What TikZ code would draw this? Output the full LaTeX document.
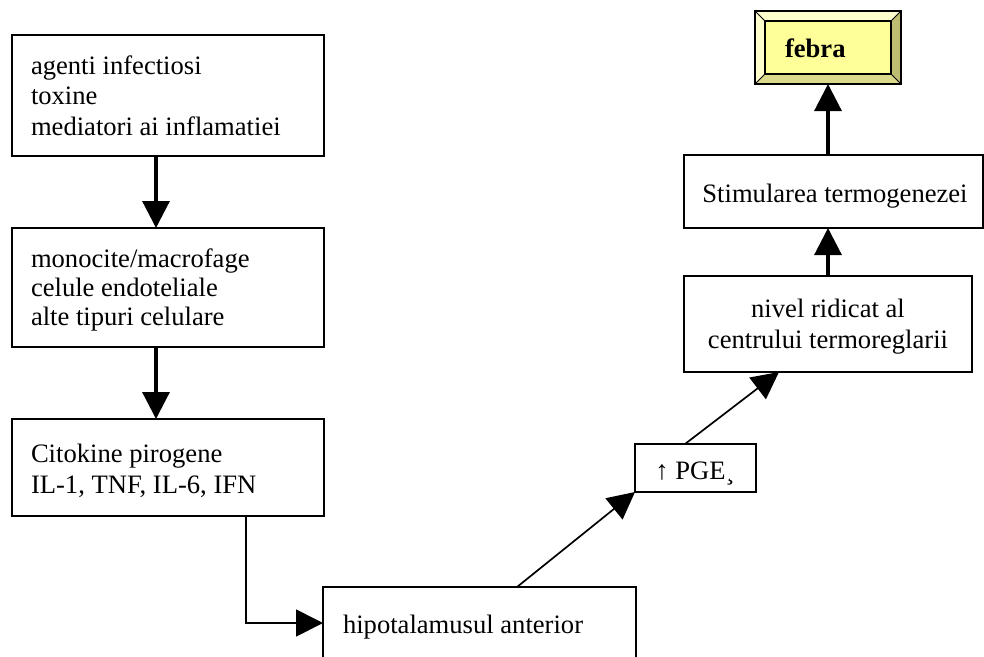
\documentclass[tikz,border=0pt]{standalone}
\usepackage{fontspec}
\setmainfont{Liberation Serif}
\usetikzlibrary{arrows.meta}
\definecolor{faceY}{HTML}{FFFF99}
\definecolor{lightY}{HTML}{FFFFCC}
\definecolor{midY}{HTML}{DADA8A}
\definecolor{darkY}{HTML}{BEBE72}
\begin{document}
\begin{tikzpicture}[x=1pt,y=-1pt,
  box/.style={draw,line width=1.8pt,rectangle,inner sep=0pt,outer sep=0pt,anchor=north west},
  lbl/.style={inner sep=0pt,outer sep=0pt,font=\fontsize{26.6}{30.6}\selectfont},
  tip/.style={-{Triangle[length=27pt,width=27pt]}},
  heavy/.style={tip,line width=3.2pt},
  light/.style={tip,line width=1.7pt}]

% page area
\fill[white] (0,0) rectangle (984,656);
\useasboundingbox (0,0) rectangle (984,656);

% left column
\node[box,minimum width=312,minimum height=121] (b1) at (12,35) {};
\node[lbl,anchor=base west] (t1a) at (31,74) {agenti infectiosi};
\node[lbl,anchor=base west] (t1b) at (31,104.5) {toxine};
\node[lbl,anchor=base west] (t1c) at (31,135) {mediatori ai inflamatiei};

\node[box,minimum width=312,minimum height=119] (b2) at (12,228) {};
\node[lbl,anchor=base west] (t2a) at (31,267) {monocite/macrofage};
\node[lbl,anchor=base west] (t2b) at (31,296) {celule endoteliale};
\node[lbl,anchor=base west] (t2c) at (31,325) {alte tipuri celulare};

\node[box,minimum width=312,minimum height=97] (b3) at (12,419) {};
\node[lbl,anchor=base west] (t3a) at (31,462) {Citokine pirogene};
\node[lbl,anchor=base west] (t3b) at (31,493) {IL-1, TNF, IL-6, IFN};

% bottom box
\node[box,minimum width=313,minimum height=72] (b4) at (323,587) {};
\node[lbl,anchor=base west] (t4) at (343,633) {hipotalamusul anterior};

% right column
\node[box,minimum width=121,minimum height=48] (pge) at (635,444) {};
\node[lbl,anchor=base] (t5) at (695,479) {↑ PGE¸};

\node[box,minimum width=288,minimum height=96] (niv) at (684,276) {};
\node[lbl,anchor=base] (t6a) at (828,317) {nivel ridicat al};
\node[lbl,anchor=base] (t6b) at (828,348) {centrului termoreglarii};

\node[box,minimum width=299,minimum height=73] (stim) at (684,155) {};
\node[lbl,anchor=base] (t7) at (835,202) {Stimularea termogenezei};

% bevelled result box
\node[inner sep=0pt,outer sep=0pt,minimum width=146,minimum height=73,anchor=north west] (fe) at (755,11) {};
\fill[lightY] (755,11) -- (901,11) -- (891,21) -- (765,21) -- cycle;
\fill[lightY] (755,11) -- (765,21) -- (765,74) -- (755,84) -- cycle;
\fill[midY] (755,84) -- (765,74) -- (891,74) -- (901,84) -- cycle;
\fill[darkY] (901,11) -- (901,84) -- (891,74) -- (891,21) -- cycle;
\fill[faceY] (765,21) rectangle (891,74);
\draw[line width=1.3pt] (755,11) rectangle (901,84);
\draw[line width=1.3pt] (765,21) rectangle (891,74);
\draw[line width=1pt] (755,11) -- (765,21) (901,11) -- (891,21)
  (755,84) -- (765,74) (901,84) -- (891,74);
\node[lbl,anchor=base west,font=\fontsize{26.6}{30.6}\selectfont\bfseries] (t8) at (785,57) {febra};

% connectors
\draw[heavy] ([xshift=144pt]b1.south west) -- ([xshift=144pt]b2.north west);
\draw[heavy] ([xshift=144pt]b2.south west) -- ([xshift=144pt]b3.north west);
\draw[light] ([xshift=234pt]b3.south west) |- (b4.west);
\draw[light] ([xshift=194pt]b4.north west) -- (pge.south west);
\draw[light] ([xshift=50pt]pge.north west) -- ([xshift=95pt]niv.south west);
\draw[heavy] (niv.north) -- (niv.north |- stim.south);
\draw[heavy] (stim.north -| fe.south) -- (fe.south);
\end{tikzpicture}
\end{document}
